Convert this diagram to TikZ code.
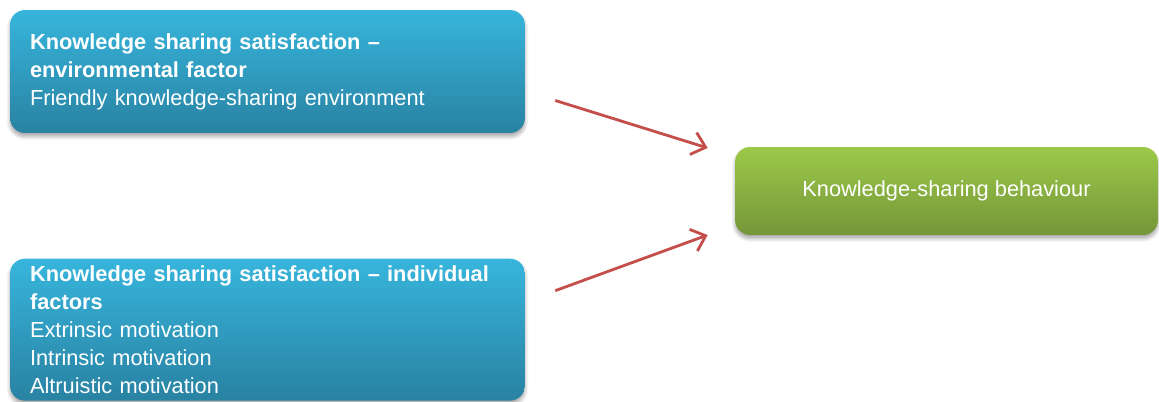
\documentclass[tikz,border=0pt]{standalone}
\usepackage{fontspec}
\setmainfont{Liberation Sans}
\usetikzlibrary{positioning,calc,arrows.meta,shadows.blur}
\definecolor{boxtop}{RGB}{55,181,220}
\definecolor{boxbot}{RGB}{41,130,162}
\definecolor{greentop}{RGB}{156,201,73}
\definecolor{greenbot}{RGB}{117,150,57}
\definecolor{arrowred}{RGB}{196,78,74}
\begin{document}
\begin{tikzpicture}[x=0.02cm,y=-0.02cm,
	factor/.style={rounded corners=0.3cm,top color=boxtop,bottom color=boxbot,draw=none,text=white,
		text width=9.5cm,inner xsep=0.4cm,align=left,font=\fontsize{12.4}{16}\selectfont,
		blur shadow={shadow xshift=0pt,shadow yshift=-2pt,shadow blur steps=6,shadow opacity=35}},
	outcome/.style={rounded corners=0.3cm,top color=greentop,bottom color=greenbot,draw=none,text=white,
		minimum width=8.46cm,minimum height=1.76cm,font=\fontsize{12.4}{16}\selectfont,
		blur shadow={shadow xshift=0pt,shadow yshift=-2pt,shadow blur steps=6,shadow opacity=35}},
	link/.style={-{Straight Barb[length=2.6mm,width=4.6mm]},line width=1.6pt,draw=arrowred}]
		\useasboundingbox (0,0) rectangle (1159,402);
		\node[factor,minimum height=2.46cm] (envbox) at (267.5,71.5) {\textbf{Knowledge sharing satisfaction --}\\ \textbf{environmental factor}\\ Friendly knowledge-sharing environment};
		\node[factor,minimum height=2.84cm,below=2.5cm of envbox] (indbox) {\textbf{Knowledge sharing satisfaction -- individual}\\ \textbf{factors}\\ Extrinsic motivation\\ Intrinsic motivation\\ Altruistic motivation};
		\node[outcome] (behbox) at (946.5,191) {Knowledge-sharing behaviour};
		
		\draw[link] ($(envbox.east)+(30,29)$) -- ($(behbox.west)+(-27,-43)$);
		\draw[link] ($(indbox.east)+(30,-39)$) -- ($(behbox.west)+(-27,44)$);
\end{tikzpicture}
\end{document}
